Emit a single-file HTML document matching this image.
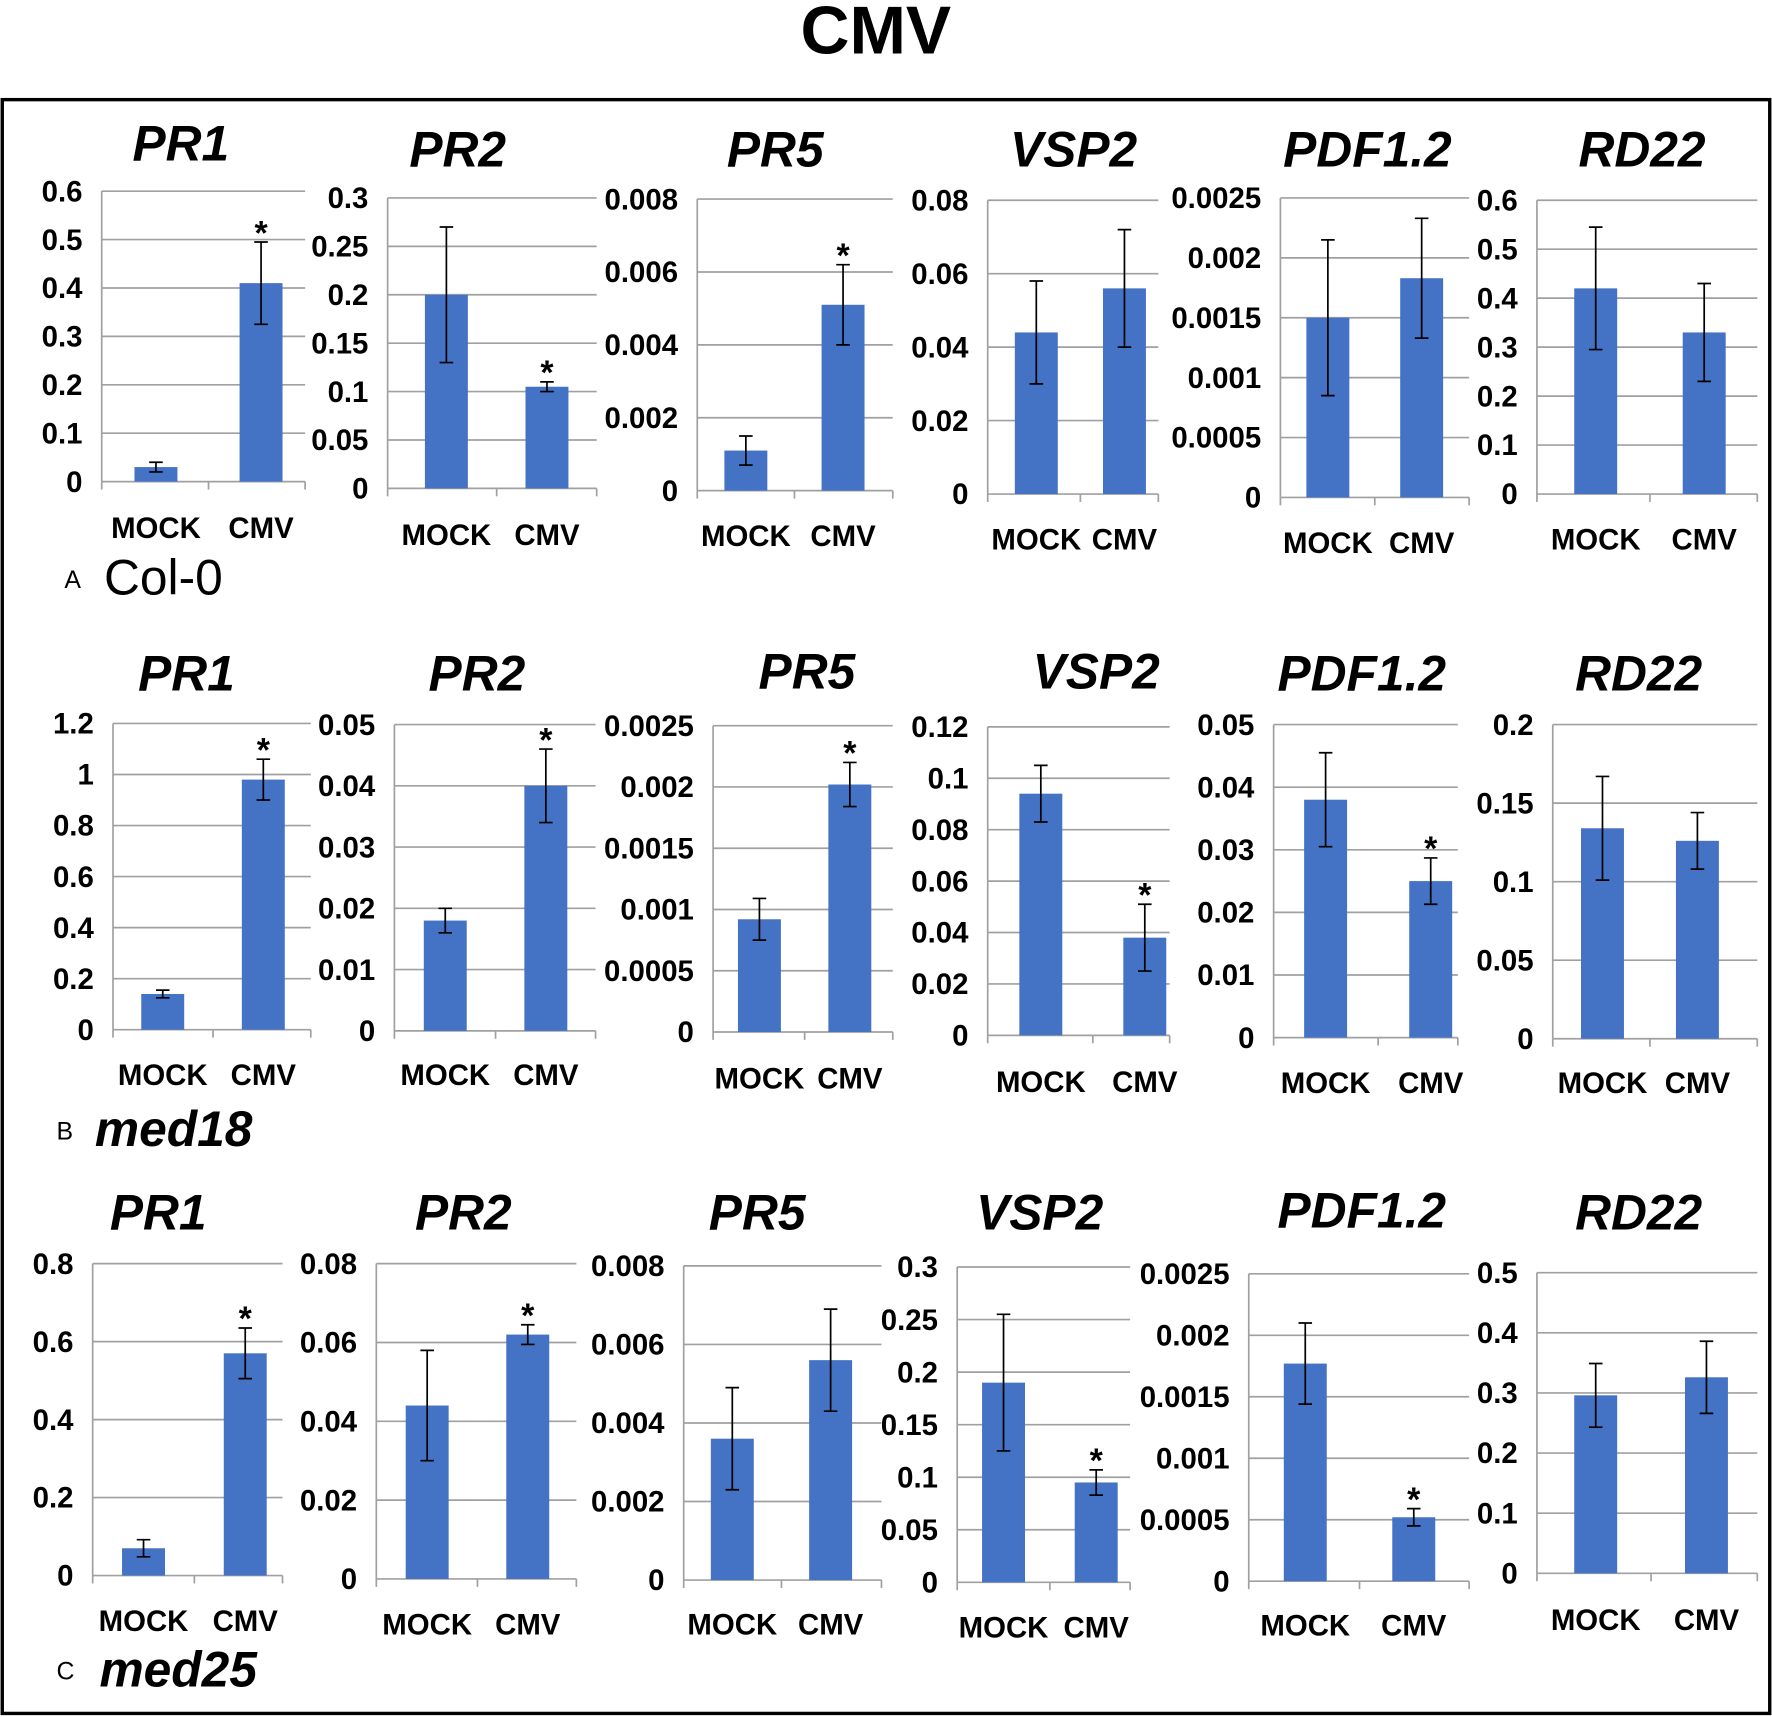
<!DOCTYPE html>
<html><head><meta charset="utf-8">
<style>
html,body{margin:0;padding:0;background:#fff;}
svg{display:block;}
text{font-family:"Liberation Sans",sans-serif;}
</style></head>
<body>
<svg id="chart" width="1772" height="1717" viewBox="0 0 1568 1519" xmlns="http://www.w3.org/2000/svg">
<text x="775" y="47" text-anchor="middle" font-size="60" font-weight="bold">CMV</text>
<rect x="2" y="88" width="1564" height="1428" fill="none" stroke="#000" stroke-width="3"/>
<text x="57" y="520" font-size="22">A</text>
<text x="92" y="526" font-size="44">Col-0</text>
<text x="50" y="1008" font-size="22">B</text>
<text x="84" y="1014" font-size="44" font-style="italic" font-weight="bold">med18</text>
<text x="50" y="1486" font-size="22">C</text>
<text x="88" y="1492" font-size="44" font-style="italic" font-weight="bold">med25</text>
</svg>
<script>
const genes = ["PR1","PR2","PR5","VSP2","PDF1.2","RD22"];
const categories = ["MOCK","CMV"];
// rows: Col-0, med18, med25
const mockValues = [
  [0.03,0.2,0.0011,0.044,0.0015,0.42],
  [0.14,0.018,0.00092,0.094,0.038,0.134],
  [0.07,0.044,0.0036,0.19,0.00177,0.296]];
const mockErr = [
  [0.01,0.07,0.0004,0.014,0.00065,0.125],
  [0.015,0.002,0.00017,0.011,0.0075,0.033],
  [0.022,0.014,0.0013,0.065,0.00033,0.053]];
const cmvValues = [
  [0.41,0.105,0.0051,0.056,0.00183,0.33],
  [0.98,0.04,0.00202,0.038,0.025,0.126],
  [0.57,0.062,0.0056,0.095,0.00052,0.326]];
const cmvErr = [
  [0.085,0.005,0.0011,0.016,0.0005,0.1],
  [0.08,0.006,0.00018,0.013,0.0037,0.018],
  [0.065,0.0025,0.0013,0.012,0.00007,0.06]];
const cmvStar = [
  [1,1,1,0,0,0],
  [1,1,1,1,1,0],
  [1,1,0,1,1,0]];
const axisMax = [
  [0.6,0.3,0.008,0.08,0.0025,0.6],
  [1.2,0.05,0.0025,0.12,0.05,0.2],
  [0.8,0.08,0.008,0.3,0.0025,0.5]];
const tickStep = [
  [0.1,0.05,0.002,0.02,0.0005,0.1],
  [0.2,0.01,0.0005,0.02,0.01,0.05],
  [0.2,0.02,0.002,0.05,0.0005,0.1]];

// layout: [titleX,titleY,axisX,topY,bottomY,rightX,mockX,cmvX,catY]
const layout = [
 [[160,128,90,169,426,270,138,231,466],[405,133,343,175,432,528,395,484,472],[686,133,617,176,434,790,660,746,473],
  [950,133,874,177,437,1025,917,995,476],[1210,133,1133,175,440,1300,1175,1258,479],[1453,133,1360,177,437,1555,1412,1508,476]],
 [[165,597,100,640,911,275,144,233,950],[422,597,349,641,912,527,394,483,950],[714,595,631,642,913,790,672,752,953],
  [970,595,874,643,916,1035,921,1013,956],[1205,597,1127,641,918,1290,1173,1266,957],[1450,597,1374,641,919,1555,1418,1502,957]],
 [[140,1074,82,1118,1394,250,127,217,1433],[410,1074,333,1118,1397,510,378,467,1436],[670,1074,605,1120,1398,780,648,735,1436],
  [920,1074,847,1121,1400,1000,888,970,1439],[1205,1072,1105,1127,1399,1300,1155,1251,1437],[1450,1074,1360,1126,1392,1555,1412,1510,1432]]];

const NS="http://www.w3.org/2000/svg";
const svg=document.getElementById("chart");
function mk(tag,attrs,parent){const e=document.createElementNS(NS,tag);for(const k in attrs)e.setAttribute(k,attrs[k]);(parent||svg).appendChild(e);return e;}
const rowNames=["col0","med18","med25"];
for(let r=0;r<3;r++){for(let g=0;g<6;g++){
  const L=layout[r][g];
  const [tx,ty,ax,top,bot,rx,mx,cx,cy]=L;
  const max=axisMax[r][g], step=tickStep[r][g];
  const y=v=>bot-(v/max)*(bot-top);
  const grp=mk("g",{});
  
  
  const t=mk("text",{x:tx,y:ty+14,"text-anchor":"middle","font-size":44,"font-weight":"bold","font-style":"italic"},grp);
  t.textContent=genes[g];
  
  
  const n=Math.round(max/step);
  for(let k=0;k<=n;k++){
    const v=k*step, yy=y(v);
    if(k>0){const gl=mk("line",{x1:ax,x2:rx,y1:yy,y2:yy,stroke:"#a0a0a0","stroke-width":1.5},grp);
      
      }
    const lb=mk("text",{x:ax-17,y:yy+9,"text-anchor":"end","font-size":26,"font-weight":"bold"},grp);
    lb.textContent=String(parseFloat(v.toFixed(6)));
    
    
  }
  const ya=mk("line",{x1:ax,x2:ax,y1:top,y2:bot,stroke:"#a0a0a0","stroke-width":1.5},grp);
  
  
  const xa=mk("line",{x1:ax,x2:rx,y1:bot,y2:bot,stroke:"#a0a0a0","stroke-width":1.5},grp);
  
  
  const mid=(mx+cx)/2;
  [ax,mid,rx].forEach(xx=>{const tk=mk("line",{x1:xx,x2:xx,y1:bot,y2:bot+7,stroke:"#a0a0a0","stroke-width":1.5},grp);
    
    });
  const vals=[mockValues[r][g],cmvValues[r][g]], errs=[mockErr[r][g],cmvErr[r][g]], xs=[mx,cx];
  for(let i=0;i<2;i++){
    const b=mk("rect",{x:xs[i]-19,y:y(vals[i]),width:38,height:bot-y(vals[i]),fill:"#4472C4"},grp);
    
    
    const hi=y(vals[i]+errs[i]), lo=y(vals[i]-errs[i]);
    const eb=mk("path",{d:`M${xs[i]},${hi}V${lo}M${xs[i]-6},${hi}H${xs[i]+6}M${xs[i]-6},${lo}H${xs[i]+6}`,stroke:"#000","stroke-width":1.5,fill:"none"},grp);
    
    
    const cl=mk("text",{x:xs[i],y:cy+10,"text-anchor":"middle","font-size":26,"font-weight":"bold"},grp);
    cl.textContent=categories[i];
    
    
  }
  if(cmvStar[r][g]){
    const s=mk("text",{x:cx,y:y(vals[1]+errs[1])+2,"text-anchor":"middle","font-size":30,"font-weight":"bold"},grp);
    s.textContent="*";
    
    
  }
}}
</script>
</body></html>
